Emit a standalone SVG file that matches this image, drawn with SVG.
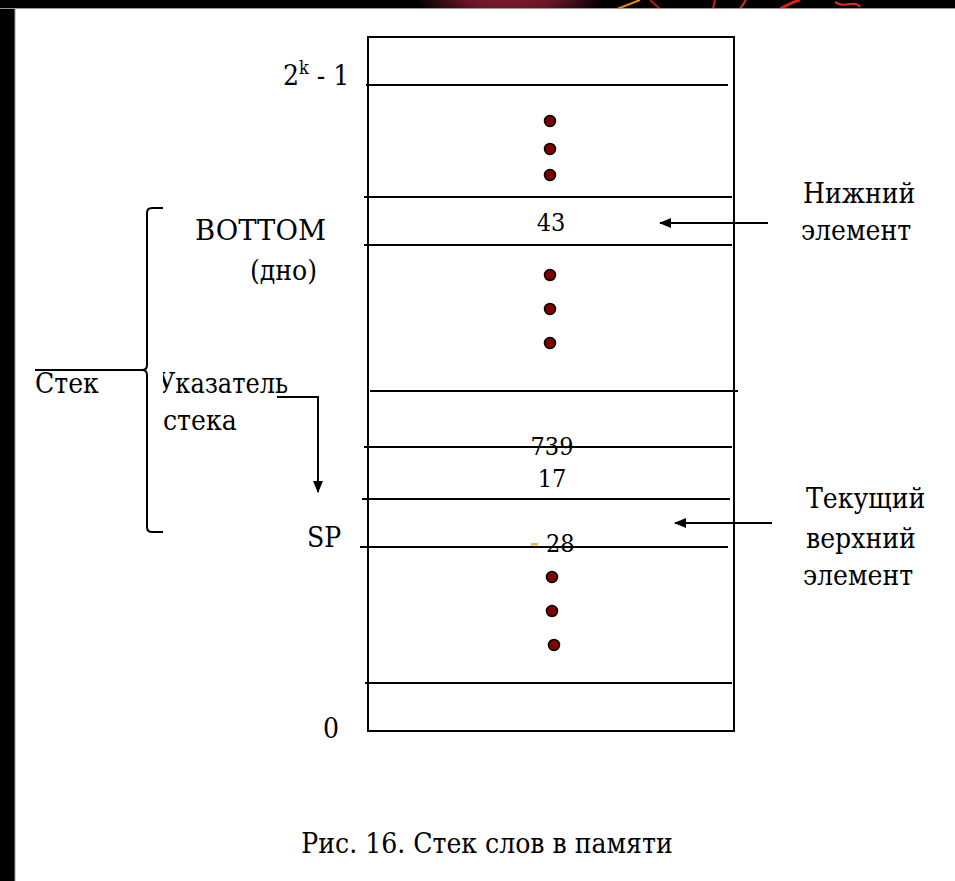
<svg xmlns="http://www.w3.org/2000/svg" width="955" height="881" viewBox="0 0 955 881">
  <style>
    text { font-family: "DejaVu Serif Condensed", "DejaVu Serif", "Liberation Serif", serif; font-stretch: condensed; fill: #000; }
    .lbl { font-size: 28px; }
    .num { font-size: 25px; text-anchor: middle; }
    .cap { font-size: 28px; text-anchor: middle; }
    .rule { stroke: #000; stroke-width: 2; fill: none; }
    .dot { fill: #800000; stroke: #000; stroke-width: 1.5; }
    .conn { stroke: #000; stroke-width: 2; fill: none; }
  </style>
  <defs>
    <marker id="arrow" viewBox="0 0 12 10" refX="11" refY="5" markerWidth="12" markerHeight="10" markerUnits="userSpaceOnUse" orient="auto">
      <path d="M0,0 L12,5 L0,10 Z" fill="#000"/>
    </marker>
    <radialGradient id="glow" cx="0.5" cy="0.5" r="0.5">
      <stop offset="0" stop-color="#8e1e36"/>
      <stop offset="0.55" stop-color="#6a1526"/>
      <stop offset="1" stop-color="#000"/>
    </radialGradient>
    <clipPath id="band">
      <rect x="0" y="0" width="955" height="8"/>
    </clipPath>
    <clipPath id="ptrClip">
      <rect x="163" y="360" width="200" height="50"/>
    </clipPath>
  </defs>

  <!-- page frame -->
  <rect x="0" y="0" width="955" height="881" fill="#fff"/>
  <rect x="0" y="0" width="15" height="881" fill="#000"/>
  <rect x="0" y="0" width="955" height="8" fill="#000"/>
  <g clip-path="url(#band)">
    <ellipse cx="510" cy="-20" rx="100" ry="60" fill="url(#glow)"/>
    <path d="M617,9 L640,0" stroke="#f08a10" stroke-width="2" fill="none"/>
    <path d="M650,0 L660,9" stroke="#c01a10" stroke-width="2" fill="none"/>
    <path d="M713,9 L715,0" stroke="#d02010" stroke-width="2" fill="none"/>
    <path d="M740,9 L746,0" stroke="#e02a10" stroke-width="2" fill="none"/>
    <path d="M780,9 Q792,2 800,0" stroke="#d82010" stroke-width="3" fill="none"/>
    <path d="M835,2 Q840,6 850,4 Q858,3 860,7" stroke="#e82a18" stroke-width="2" fill="none"/>
  </g>
  <line x1="0" y1="8.5" x2="955" y2="8.5" stroke="#999" stroke-width="1"/>
  <line x1="15" y1="8" x2="15" y2="881" stroke="#999" stroke-width="1"/>

  <!-- memory block -->
  <g id="memory">
    <rect x="368" y="37" width="366" height="694" class="rule"/>
    <line x1="366" y1="85" x2="728" y2="85" class="rule"/>
    <line x1="364" y1="197" x2="732" y2="197" class="rule"/>
    <line x1="364" y1="245" x2="732" y2="245" class="rule"/>
    <line x1="370" y1="391" x2="738" y2="391" class="rule"/>
    <line x1="364" y1="447" x2="732" y2="447" class="rule"/>
    <line x1="362" y1="499" x2="730" y2="499" class="rule"/>
    <line x1="360" y1="547" x2="728" y2="547" class="rule"/>
    <line x1="365" y1="683" x2="732" y2="683" class="rule"/>
  </g>

  <g id="cell-top-dots">
    <circle cx="550" cy="121" r="5.5" class="dot"/>
    <circle cx="550" cy="149" r="5.5" class="dot"/>
    <circle cx="550" cy="175" r="5.5" class="dot"/>
  </g>
  <g id="cell-bottom">
    <text x="551" y="231" class="num">43</text>
  </g>
  <g id="cell-mid-dots">
    <circle cx="550" cy="275" r="5.5" class="dot"/>
    <circle cx="550" cy="309" r="5.5" class="dot"/>
    <circle cx="550" cy="343" r="5.5" class="dot"/>
  </g>
  <g id="cell-739">
    <text x="552" y="455" class="num">739</text>
  </g>
  <g id="cell-17">
    <text x="552" y="487" class="num">17</text>
  </g>
  <g id="cell-top">
    <rect x="531" y="543" width="7" height="2.5" fill="#f2c200"/>
    <text x="546" y="552" font-size="25">28</text>
  </g>
  <g id="cell-low-dots">
    <circle cx="552" cy="577" r="5.5" class="dot"/>
    <circle cx="552" cy="611" r="5.5" class="dot"/>
    <circle cx="554" cy="645" r="5.5" class="dot"/>
  </g>

  <!-- address labels -->
  <g id="addr-max">
    <text x="283" y="85" class="lbl">2<tspan dy="-11" font-size="18">k</tspan><tspan dy="11"> - 1</tspan></text>
  </g>
  <g id="addr-zero">
    <text x="323" y="738" class="lbl">0</text>
  </g>
  <g id="bottom-label">
    <text x="195" y="240" class="lbl" textLength="131" lengthAdjust="spacingAndGlyphs">BOTTOM</text>
    <text x="250" y="280" class="lbl">(дно)</text>
  </g>
  <g id="sp-label">
    <text x="307" y="547" class="lbl">SP</text>
  </g>
  <g id="pointer-label">
    <text x="158" y="393" class="lbl" clip-path="url(#ptrClip)" textLength="130" lengthAdjust="spacingAndGlyphs">Указатель</text>
    <text x="163" y="430" class="lbl">стека</text>
  </g>
  <g id="stack-label">
    <text x="35" y="393" class="lbl">Стек</text>
  </g>
  <g id="bottom-elem-label">
    <text x="803" y="203" class="lbl">Нижний</text>
    <text x="801" y="240" class="lbl">элемент</text>
  </g>
  <g id="top-elem-label">
    <text x="806" y="508" class="lbl">Текущий</text>
    <text x="806" y="548" class="lbl">верхний</text>
    <text x="803" y="585" class="lbl">элемент</text>
  </g>

  <!-- connectors -->
  <g id="connectors">
    <path d="M163,208 H152 Q147,208 147,213 V365 Q147,370 142,370 Q147,370 147,375 V527 Q147,532 152,532 H163" class="conn"/>
    <line x1="35" y1="370" x2="142" y2="370" class="conn"/>
    <path d="M277,397 H318 V492" class="conn" marker-end="url(#arrow)"/>
    <line x1="768" y1="223" x2="660" y2="223" class="conn" marker-end="url(#arrow)"/>
    <line x1="772" y1="523" x2="675" y2="523" class="conn" marker-end="url(#arrow)"/>
  </g>

  <g id="caption">
    <text x="487" y="853" class="cap">Рис. 16. Стек слов в памяти</text>
  </g>
</svg>
